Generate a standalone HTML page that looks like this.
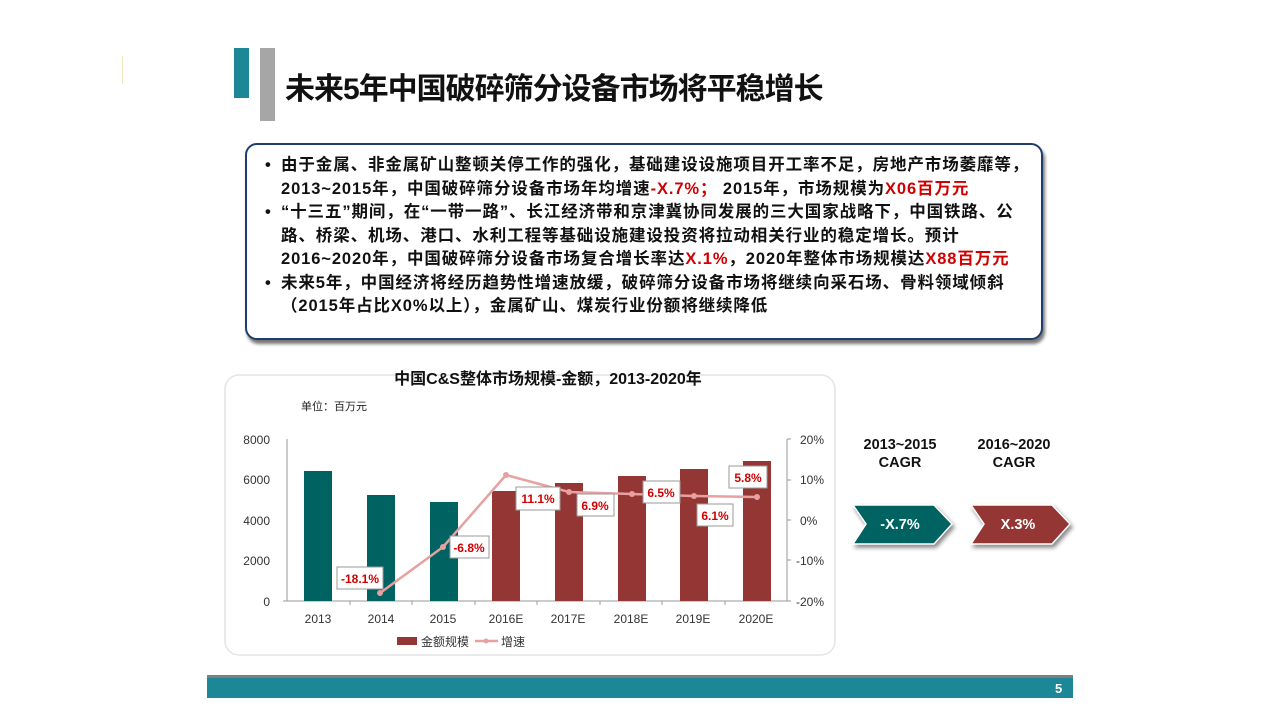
<!DOCTYPE html>
<html><head><meta charset="utf-8"><style>
body{margin:0;width:1280px;height:720px;background:#fff;position:relative;overflow:hidden;font-family:"Liberation Sans","Noto Sans CJK SC",sans-serif;}
.abs{position:absolute}
.title{left:285px;top:64px;font-size:30px;font-weight:bold;color:#111;letter-spacing:-1px}
.box{left:245px;top:143px;width:794px;height:193px;border:2px solid #1f3e6e;border-radius:12px;box-shadow:2px 4px 3px #777;background:#fff}
.box ul{margin:0;padding:0;list-style:none;position:absolute;left:12px;top:9px;font-size:16.5px;font-weight:bold;line-height:23.5px;color:#111;letter-spacing:0.9px;white-space:nowrap}
.box li{padding-left:22px;position:relative}
.box li:before{content:"•";position:absolute;left:6px}
.r{color:#d00000}
</style></head><body>
<div class="abs" style="left:122px;top:56px;width:1px;height:28px;background:#eee8c0"></div>
<div class="abs" style="left:234px;top:48px;width:15px;height:50px;background:#1c8797"></div>
<div class="abs" style="left:260px;top:48px;width:15px;height:73px;background:#a6a6a6"></div>
<div class="abs title">未来5年中国破碎筛分设备市场将平稳增长</div>
<div class="abs box"><ul>
<li>由于金属、非金属矿山整顿关停工作的强化，基础建设设施项目开工率不足，房地产市场萎靡等，<br>2013~2015年，中国破碎筛分设备市场年均增速<span class="r">-X.7%；</span> 2015年，市场规模为<span class="r">X06百万元</span></li>
<li>“十三五”期间，在“一带一路”、长江经济带和京津冀协同发展的三大国家战略下，中国铁路、公<br>路、桥梁、机场、港口、水利工程等基础设施建设投资将拉动相关行业的稳定增长。预计<br>2016~2020年，中国破碎筛分设备市场复合增长率达<span class="r">X.1%</span>，2020年整体市场规模达<span class="r">X88百万元</span></li>
<li>未来5年，中国经济将经历趋势性增速放缓，破碎筛分设备市场将继续向采石场、骨料领域倾斜<br>（2015年占比X0%以上），金属矿山、煤炭行业份额将继续降低</li>
</ul></div>
<svg class="abs" style="left:0;top:0" width="1280" height="720" font-family="Liberation Sans, Noto Sans CJK SC, sans-serif">
<rect x="225" y="375" width="610" height="280" rx="14" fill="none" stroke="#e4e4e4" stroke-width="1.5"/>
<text x="548" y="384" text-anchor="middle" font-size="16" font-weight="bold" fill="#111">中国C&amp;S整体市场规模-金额，2013-2020年</text>
<text x="301" y="410" font-size="11" fill="#222">单位：百万元</text>
<g font-size="12" fill="#333" text-anchor="end">
<text x="270" y="444">8000</text><text x="270" y="484">6000</text><text x="270" y="525">4000</text><text x="270" y="565">2000</text><text x="270" y="606">0</text></g>
<g font-size="12" fill="#333">
<text x="800" y="444">20%</text><text x="800" y="484">10%</text><text x="800" y="525">0%</text><text x="796" y="565">-10%</text><text x="796" y="606">-20%</text></g>
<line x1="287" y1="439" x2="287" y2="601" stroke="#999"/>
<line x1="787" y1="439" x2="787" y2="601" stroke="#999"/>
<line x1="283" y1="601" x2="791" y2="601" stroke="#999"/>
<g stroke="#999"><line x1="350" y1="601" x2="350" y2="605"/><line x1="412" y1="601" x2="412" y2="605"/><line x1="475" y1="601" x2="475" y2="605"/><line x1="537" y1="601" x2="537" y2="605"/><line x1="600" y1="601" x2="600" y2="605"/><line x1="662" y1="601" x2="662" y2="605"/><line x1="725" y1="601" x2="725" y2="605"/>
<line x1="787" y1="439" x2="791" y2="439"/><line x1="787" y1="480" x2="791" y2="480"/><line x1="787" y1="520" x2="791" y2="520"/><line x1="787" y1="560" x2="791" y2="560"/></g>
<g fill="#006362"><rect x="304" y="471" width="28" height="130"/><rect x="367" y="495" width="28" height="106"/><rect x="430" y="502" width="28" height="99"/></g>
<g fill="#943634"><rect x="492" y="491" width="28" height="110"/><rect x="555" y="483" width="28" height="118"/><rect x="618" y="476" width="28" height="125"/><rect x="680" y="469" width="28" height="132"/><rect x="743" y="461" width="28" height="140"/></g>
<polyline points="380,593 443,547 506,475 569,492 632,494 694,496 757,497" fill="none" stroke="#e6a1a0" stroke-width="2.5"/>
<g fill="#e6a1a0"><circle cx="380" cy="593" r="3"/><circle cx="443" cy="547" r="3"/><circle cx="506" cy="475" r="3"/><circle cx="569" cy="492" r="3"/><circle cx="632" cy="494" r="3"/><circle cx="694" cy="496" r="3"/><circle cx="757" cy="497" r="3"/></g>
<g fill="#fff" stroke="#999"><rect x="337" y="567" width="46" height="22"/><rect x="450" y="536" width="39" height="22"/><rect x="516" y="487" width="44" height="23"/><rect x="577" y="494" width="37" height="22"/><rect x="643" y="481" width="37" height="22"/><rect x="697" y="504" width="36" height="22"/><rect x="729" y="466" width="38" height="22"/></g>
<g fill="#d00000" font-size="12" font-weight="bold" text-anchor="middle">
<text x="360" y="583">-18.1%</text><text x="469" y="552">-6.8%</text><text x="538" y="503">11.1%</text><text x="595" y="510">6.9%</text><text x="661" y="497">6.5%</text><text x="715" y="520">6.1%</text><text x="748" y="482">5.8%</text></g>
<g font-size="12" fill="#333" text-anchor="middle">
<text x="318" y="623">2013</text><text x="381" y="623">2014</text><text x="443" y="623">2015</text><text x="506" y="623">2016E</text><text x="568" y="623">2017E</text><text x="631" y="623">2018E</text><text x="693" y="623">2019E</text><text x="756" y="623">2020E</text></g>
<rect x="397" y="637" width="20" height="8" fill="#943634"/>
<text x="421" y="646" font-size="12" fill="#333">金额规模</text>
<line x1="475" y1="641" x2="498" y2="641" stroke="#e6a1a0" stroke-width="2.5"/><circle cx="486" cy="641" r="2.5" fill="#e6a1a0"/>
<text x="501" y="646" font-size="12" fill="#333">增速</text>
<g font-size="14.5" font-weight="bold" fill="#111" text-anchor="middle">
<text x="900" y="449">2013~2015</text><text x="900" y="467">CAGR</text>
<text x="1014" y="449">2016~2020</text><text x="1014" y="467">CAGR</text></g>
<polygon points="853,505 934,505 952,524 934,544 853,544 866,524" fill="#006362" stroke="#fff" stroke-width="1.5" style="filter:drop-shadow(2px 3px 2px #888)"/>
<polygon points="971,505 1052,505 1070,524 1052,544 971,544 984,524" fill="#943634" stroke="#fff" stroke-width="1.5" style="filter:drop-shadow(2px 3px 2px #888)"/>
<g font-size="14.5" font-weight="bold" fill="#fff" text-anchor="middle"><text x="900" y="529">-X.7%</text><text x="1018" y="529">X.3%</text></g>
<rect x="207" y="675" width="866" height="3" fill="#7f7f7f"/>
<rect x="207" y="678" width="866" height="20" fill="#1c8797"/>
<text x="1055" y="693" font-size="13" font-weight="bold" fill="#fff">5</text>
</svg>
</body></html>
